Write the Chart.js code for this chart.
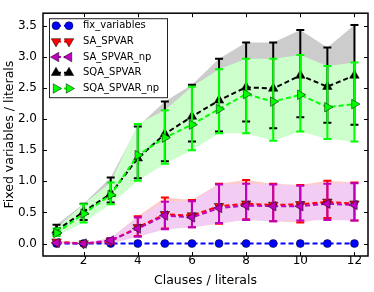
<!DOCTYPE html>
<html>
<head>
<meta charset="utf-8">
<script src="https://cdn.jsdelivr.net/npm/chart.js@4.4.1/dist/chart.umd.min.js"></script>
<style>
  html, body { margin: 0; padding: 0; background: #fff; }
</style>
</head>
<body>
<canvas id="chart" width="374" height="292"></canvas>
<script>
// values
const clauses = [1, 2, 3, 4, 5, 6, 7, 8, 9, 10, 11, 12];
const xTickValues = [2, 4, 6, 8, 10, 12];
const yTickValues = [0, 0.5, 1, 1.5, 2, 2.5, 3, 3.5];

const fixVariables = [0, 0, 0, 0, 0, 0, 0, 0, 0, 0, 0, 0];

const saSpvar     = [0.03, 0.00, 0.04, 0.26, 0.47, 0.45, 0.60, 0.64, 0.62, 0.63, 0.67, 0.64];
const saSpvarLow  = [0.01, 0.00, 0.00, 0.12, 0.24, 0.26, 0.32, 0.39, 0.36, 0.34, 0.41, 0.37];
const saSpvarHigh = [0.05, 0.00, 0.09, 0.44, 0.74, 0.70, 0.96, 1.02, 0.96, 0.94, 1.01, 0.98];

const saSpvarNp     = [0.01, 0.00, 0.05, 0.24, 0.45, 0.42, 0.57, 0.61, 0.60, 0.60, 0.64, 0.62];
const saSpvarNpLow  = [0.00, 0.00, 0.00, 0.11, 0.23, 0.26, 0.33, 0.38, 0.36, 0.37, 0.38, 0.37];
const saSpvarNpHigh = [0.03, 0.00, 0.09, 0.42, 0.67, 0.68, 0.95, 0.96, 0.95, 0.93, 0.96, 0.97];

const sqaSpvar     = [0.21, 0.51, 0.80, 1.37, 1.76, 2.04, 2.30, 2.51, 2.49, 2.70, 2.52, 2.70];
const sqaSpvarLow  = [0.14, 0.38, 0.66, 1.05, 1.32, 1.64, 1.80, 1.96, 1.85, 2.03, 1.94, 1.91];
const sqaSpvarHigh = [0.30, 0.64, 1.06, 1.88, 2.28, 2.55, 2.97, 3.23, 3.23, 3.43, 3.15, 3.51];

const sqaSpvarNp     = [0.17, 0.48, 0.78, 1.42, 1.70, 1.91, 2.16, 2.40, 2.28, 2.39, 2.19, 2.24];
const sqaSpvarNpLow  = [0.12, 0.34, 0.63, 1.01, 1.28, 1.50, 1.77, 1.77, 1.65, 1.80, 1.68, 1.64];
const sqaSpvarNpHigh = [0.24, 0.63, 0.98, 1.92, 2.14, 2.52, 2.80, 2.97, 2.97, 3.03, 2.85, 2.91];

const FONT = "'DejaVu Sans', sans-serif";

function points(values) {
    return values.map((v, i) => ({x: clauses[i], y: v}));
}

function band(high, low, color, order) {
    return [
        {data: points(high), fill: '+1', backgroundColor: color, borderWidth: 0, pointRadius: 0, order: order},
        {data: points(low), fill: false, borderWidth: 0, pointRadius: 0, order: order + 1}
    ];
}

function series(label, values, low, high, color, marker, order) {
    return {
        label: label,
        data: points(values),
        borderColor: color,
        borderWidth: 2,
        borderDash: [5, 3],
        fill: false,
        pointStyle: marker.style,
        pointRotation: marker.rotation,
        pointRadius: marker.radius,
        pointBackgroundColor: color,
        pointBorderColor: "#000",
        pointBorderWidth: 0.5,
        order: order,
        errLow: low,
        errHigh: high
    };
}

const circle = {style: "circle", rotation: 0, radius: 4};
const triDown = {style: "triangle", rotation: 180, radius: 5.5};
const triLeft = {style: "triangle", rotation: 270, radius: 5.5};
const triUp = {style: "triangle", rotation: 0, radius: 5.5};
const triRight = {style: "triangle", rotation: 90, radius: 5.5};

const lines = [
    series("fix_variables", fixVariables, null, null, "#0000ff", circle, 50),
    series("SA_SPVAR", saSpvar, saSpvarLow, saSpvarHigh, "#ff0000", triDown, 40),
    series("SA_SPVAR_np", saSpvarNp, saSpvarNpLow, saSpvarNpHigh, "#bf00bf", triLeft, 30),
    series("SQA_SPVAR", sqaSpvar, sqaSpvarLow, sqaSpvarHigh, "#000000", triUp, 20),
    series("SQA_SPVAR_np", sqaSpvarNp, sqaSpvarNpLow, sqaSpvarNpHigh, "#00ff00", triRight, 10)
];
const markers = [circle, triDown, triLeft, triUp, triRight];

// opaque light fills, later bands cover earlier ones
const datasets = [].concat(
    band(saSpvarHigh, saSpvarLow, "#ffcccc", 100),
    band(saSpvarNpHigh, saSpvarNpLow, "#f2ccf2", 90),
    band(sqaSpvarHigh, sqaSpvarLow, "#cccccc", 80),
    band(sqaSpvarNpHigh, sqaSpvarNpLow, "#ccffcc", 70),
    lines
);

const errorBars = {
    id: "errorBars",
    beforeDatasetDraw(chart, args) {
        const ds = chart.data.datasets[args.index];
        if (!ds.errLow) return;
        const ctx = chart.ctx;
        const x = chart.scales.x, y = chart.scales.y;
        ctx.save();
        ctx.strokeStyle = ds.borderColor;
        ctx.lineWidth = 2;
        for (let i = 0; i < clauses.length; i++) {
            const px = x.getPixelForValue(clauses[i]);
            const top = y.getPixelForValue(ds.errHigh[i]);
            const bot = y.getPixelForValue(ds.errLow[i]);
            ctx.beginPath();
            ctx.moveTo(px, top); ctx.lineTo(px, bot);
            ctx.moveTo(px - 4, top); ctx.lineTo(px + 4, top);
            ctx.moveTo(px - 4, bot); ctx.lineTo(px + 4, bot);
            ctx.stroke();
        }
        ctx.restore();
    }
};

const frame = {
    id: "frame",
    afterDatasetsDraw(chart) {
        const ctx = chart.ctx;
        const a = chart.chartArea;
        const x = chart.scales.x, y = chart.scales.y;
        ctx.save();
        ctx.strokeStyle = "#000";
        ctx.lineWidth = 1;
        ctx.beginPath();
        xTickValues.forEach(v => {
            const px = Math.round(x.getPixelForValue(v)) + 0.5;
            ctx.moveTo(px, a.bottom); ctx.lineTo(px, a.bottom - 4);
            ctx.moveTo(px, a.top); ctx.lineTo(px, a.top + 4);
        });
        yTickValues.forEach(v => {
            const py = Math.round(y.getPixelForValue(v)) + 0.5;
            ctx.moveTo(a.left, py); ctx.lineTo(a.left + 4, py);
            ctx.moveTo(a.right, py); ctx.lineTo(a.right - 4, py);
        });
        ctx.stroke();
        ctx.lineWidth = 1.5;
        ctx.strokeRect(a.left, a.top, a.right - a.left, a.bottom - a.top);
        ctx.restore();
    }
};

const legendBox = {
    id: "legendBox",
    afterDraw(chart) {
        const ctx = chart.ctx;
        const a = chart.chartArea;
        const left = a.left + 6, top = a.top + 5;
        ctx.save();
        ctx.fillStyle = "#fff";
        ctx.strokeStyle = "#222";
        ctx.lineWidth = 1;
        ctx.fillRect(left, top, 118, 79);
        ctx.strokeRect(left + 0.5, top + 0.5, 118, 79);
        ctx.font = "10px " + FONT;
        ctx.textBaseline = "middle";
        lines.forEach((ds, i) => {
            const cy = top + 7.5 + i * 15.7;
            ctx.strokeStyle = ds.borderColor;
            ctx.lineWidth = 2;
            ctx.setLineDash([5, 3]);
            ctx.beginPath();
            ctx.moveTo(left + 7, cy); ctx.lineTo(left + 20, cy);
            ctx.stroke();
            ctx.setLineDash([]);
            const m = markers[i];
            [left + 7, left + 20].forEach(mx => {
                ctx.fillStyle = ds.borderColor;
                ctx.strokeStyle = "#000";
                ctx.lineWidth = 0.5;
                Chart.helpers.drawPoint(ctx, {pointStyle: m.style, rotation: m.rotation, radius: m.radius, borderWidth: 0.5}, mx, cy);
            });
            ctx.fillStyle = "#000";
            ctx.fillText(ds.label, left + 34, cy);
        });
        ctx.restore();
    }
};

new Chart(document.getElementById("chart"), {
    type: "line",
    data: {datasets: datasets},
    options: {
        responsive: false,
        animation: false,
        events: [],
        layout: {padding: {top: 5, right: 5, left: 0, bottom: 0}},
        plugins: {
            legend: {display: false},
            tooltip: {enabled: false},
            filler: {drawTime: "beforeDatasetsDraw"}
        },
        scales: {
            x: {
                type: "linear",
                min: 0.5,
                max: 12.5,
                grid: {display: false, drawTicks: false},
                border: {display: false},
                afterBuildTicks: s => { s.ticks = xTickValues.map(v => ({value: v})); },
                afterFit: s => { s.height = 36; },
                ticks: {color: "#000", font: {family: FONT, size: 12}, padding: -2, maxRotation: 0, callback: v => String(v)},
                title: {display: true, text: "Clauses / literals", color: "#000", font: {family: FONT, size: 12.5}, padding: {top: 0, bottom: 4}}
            },
            y: {
                min: -0.2,
                max: 3.7,
                grid: {display: false, drawTicks: false},
                border: {display: false},
                afterBuildTicks: s => { s.ticks = yTickValues.map(v => ({value: v})); },
                afterFit: s => { s.width = 43; },
                ticks: {color: "#000", font: {family: FONT, size: 12}, padding: 6, callback: v => v.toFixed(1)},
                title: {display: true, text: "Fixed variables / literals", color: "#000", font: {family: FONT, size: 12.5}, padding: {top: 2.5, bottom: 0}}
            }
        }
    },
    plugins: [errorBars, frame, legendBox]
});
</script>
</body>
</html>
